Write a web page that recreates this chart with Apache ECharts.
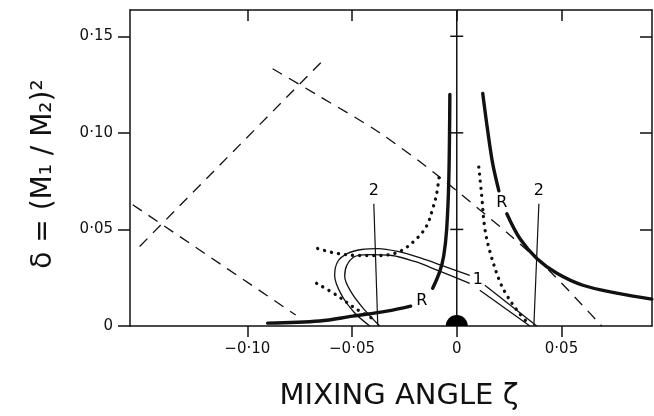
<!DOCTYPE html>
<html>
<head>
<meta charset="utf-8">
<script src="https://cdn.jsdelivr.net/npm/echarts@6/dist/echarts.min.js"></script>
<style>html,body{margin:0;padding:0;background:#fff;}#c{width:654px;height:416px;}</style>
</head>
<body>
<div id="c"></div>
<script>
// axis ranges and ticks
const xRange = [-0.156, 0.0932];
const yRange = [0, 0.1636];
const xTicks = [-0.10, -0.05, 0, 0.05];
const xTickLabels = ['\u22120\u00b710', '\u22120\u00b705', '0', '0\u00b705'];
const yTicks = [0, 0.05, 0.10, 0.15];
const yTickLabels = ['0', '0\u00b705', '0\u00b710', '0\u00b715'];
const zeroLineTicks = [0.05, 0.10, 0.15];

// dashed lines
const dashLong = [[-0.0879,0.1332],[-0.0654,0.1188],[-0.0372,0.1003],[-0.0100,0.0787],[0.0267,0.0458],[0.0454,0.0273],[0.0692,0.0]];
const dashRise = [[-0.1514,0.0412],[-0.0645,0.1368]];
const dashLow = [[-0.1547,0.0628],[-0.0769,0.0057]];

// thick R curves
const rLeftHigh = [[-0.0033,0.1199],[-0.0038,0.0761],[-0.0048,0.0504],[-0.0062,0.0365],[-0.0081,0.0283],[-0.0115,0.0195]];
const rLeftLow = [[-0.0220,0.0103],[-0.0334,0.0077],[-0.0497,0.0051],[-0.0654,0.0026],[-0.0903,0.0015]];
const rRightHigh = [[0.0124,0.1204],[0.0148,0.1008],[0.0172,0.0838],[0.0201,0.0700]];
const rRightLow = [[0.0239,0.0581],[0.0301,0.0453],[0.0382,0.0350],[0.0478,0.0273],[0.0602,0.0211],[0.0764,0.0170],[0.0931,0.0139]];

// dotted curves
const dotUpper = [[-0.0664,0.0401],[-0.0573,0.0376],[-0.0463,0.0365],[-0.0368,0.0365],[-0.0272,0.0386],[-0.0191,0.0453],[-0.0143,0.0520],[-0.0115,0.0607],[-0.0096,0.0684],[-0.0081,0.0802]];
const dotLower = [[-0.0669,0.0221],[-0.0573,0.0159],[-0.0487,0.0093],[-0.0382,0.0026]];
const dotRight = [[0.0105,0.0823],[0.0119,0.0674],[0.0134,0.0504],[0.0158,0.0386],[0.0205,0.0231],[0.0239,0.0159],[0.0287,0.0082],[0.0339,0.0015]];

// band "1" (double thin line)
const bandOuterA = [[-0.0415,0.0],[-0.0487,0.0067],[-0.0549,0.0159],[-0.0583,0.0262],[-0.0568,0.0334],[-0.0521,0.0376],[-0.0454,0.0396],[-0.0377,0.0401],[-0.0282,0.0386],[-0.0167,0.0350],[-0.0072,0.0314],[0.0062,0.0262]];
const bandOuterB = [[0.0134,0.0211],[0.0382,0.0]];
const bandInnerA = [[-0.0368,0.0],[-0.0439,0.0082],[-0.0501,0.0170],[-0.0535,0.0257],[-0.0525,0.0314],[-0.0487,0.0360],[-0.0425,0.0370],[-0.0310,0.0365],[-0.0201,0.0334],[-0.0091,0.0288],[0.0062,0.0221]];
const bandInnerB = [[0.0110,0.0185],[0.0349,0.0]];

// thin "2" lines
const line2Left = [[-0.0396,0.0633],[-0.0377,0.0]];
const line2Right = [[0.0392,0.0633],[0.0368,0.0]];

// zero line
const zeroLine = [[0,0],[0,0.1636]];
const origin = [[0,0]];

// curve labels
const curveLabels = [
  {name:'R', value:[-0.0167,0.0129]},
  {name:'R', value:[0.0215,0.0638]},
  {name:'2', value:[-0.0396,0.0700]},
  {name:'2', value:[0.0392,0.0700]},
  {name:'1', value:[0.0100,0.0237]}
];

const FONT = 'DejaVu Sans';
const INK = '#111';

function fmt(ticks, labels) {
  return function (v) {
    const i = ticks.findIndex(t => Math.abs(t - v) < 1e-9);
    return i >= 0 ? labels[i] : '';
  };
}

function lineS(data, style, smooth) {
  return {
    type: 'line', data: data, showSymbol: false, symbol: 'none', silent: true,
    smooth: smooth === undefined ? 0.35 : smooth, clip: true,
    lineStyle: Object.assign({color: INK, opacity: 1}, style), z: 3
  };
}

const dashStyle = {width: 1.3, type: [11, 8]};
const thickStyle = {width: 3.4, cap: 'round'};
const dotStyle = {width: 3.3, type: [0.1, 7], cap: 'round'};
const thinStyle = {width: 1.3};

const chart = echarts.init(document.getElementById('c'), null, {renderer: 'canvas'});
chart.setOption({
  animation: false,
  backgroundColor: '#fff',
  grid: {left: 130, top: 10, right: 2, bottom: 88, containLabel: false},
  xAxis: [
    {
      type: 'value', min: xRange[0], max: xRange[1], position: 'bottom',
      name: 'MIXING ANGLE \u03b6', nameLocation: 'middle', nameGap: 56,
      nameTextStyle: {fontFamily: FONT, fontSize: 29, color: INK, padding: [0, 0, 0, 16]},
      axisLine: {show: true, onZero: false, lineStyle: {color: INK, width: 1.5}},
      axisTick: {show: true, inside: false, length: 11, customValues: xTicks, lineStyle: {color: INK, width: 1.5}},
      axisLabel: {show: true, customValues: xTicks, formatter: fmt(xTicks, xTickLabels), margin: 16,
        fontFamily: FONT, fontSize: 15, color: INK},
      splitLine: {show: false}
    },
    {
      type: 'value', min: xRange[0], max: xRange[1], position: 'top',
      axisLine: {show: true, onZero: false, lineStyle: {color: INK, width: 1.5}},
      axisTick: {show: true, inside: true, length: 11, customValues: xTicks, lineStyle: {color: INK, width: 1.5}},
      axisLabel: {show: false},
      splitLine: {show: false}
    }
  ],
  yAxis: [
    {
      type: 'value', min: yRange[0], max: yRange[1], position: 'left',
      name: '\u03b4 = (M\u2081 / M\u2082)\u00b2', nameLocation: 'middle', nameRotate: 90, nameGap: 72,
      nameTextStyle: {fontFamily: FONT, fontSize: 28, color: INK, padding: [0, 12, 0, 0]},
      axisLine: {show: true, onZero: false, lineStyle: {color: INK, width: 1.5}},
      axisTick: {show: true, inside: false, length: 12, customValues: yTicks, lineStyle: {color: INK, width: 1.5}},
      axisLabel: {show: true, customValues: yTicks, formatter: fmt(yTicks, yTickLabels), margin: 17,
        fontFamily: FONT, fontSize: 15, color: INK},
      splitLine: {show: false}
    },
    {
      type: 'value', min: yRange[0], max: yRange[1], position: 'right',
      axisLine: {show: true, onZero: false, lineStyle: {color: INK, width: 1.5}},
      axisTick: {show: true, inside: true, length: 12, customValues: yTicks.slice(1), lineStyle: {color: INK, width: 1.5}},
      axisLabel: {show: false},
      splitLine: {show: false}
    }
  ],
  series: [
    lineS(zeroLine, {width: 1.5}, false),
    {
      type: 'scatter', data: zeroLineTicks.map(v => [0, v]), symbol: 'rect', symbolSize: [13, 1.5],
      itemStyle: {color: INK, opacity: 1}, silent: true, z: 3
    },
    lineS(dashLong, dashStyle, 0.3),
    lineS(dashRise, dashStyle, false),
    lineS(dashLow, dashStyle, false),
    lineS(rLeftHigh, thickStyle),
    lineS(rLeftLow, thickStyle),
    lineS(rRightHigh, thickStyle),
    lineS(rRightLow, thickStyle),
    lineS(dotUpper, dotStyle),
    lineS(dotLower, dotStyle),
    lineS(dotRight, dotStyle),
    lineS(bandOuterA, thinStyle),
    lineS(bandOuterB, thinStyle, false),
    lineS(bandInnerA, thinStyle),
    lineS(bandInnerB, thinStyle, false),
    lineS(line2Left, {width: 1.2}, false),
    lineS(line2Right, {width: 1.2}, false),
    {
      type: 'custom', data: origin, silent: true, z: 4,
      renderItem: function (params, api) {
        const p = api.coord([api.value(0), api.value(1)]);
        return {
          type: 'sector',
          shape: {cx: p[0], cy: p[1], r0: 0, r: 11, startAngle: Math.PI, endAngle: 2 * Math.PI, clockwise: true},
          style: {fill: '#000'}
        };
      }
    },
    {
      type: 'scatter', data: curveLabels, symbolSize: 0, silent: true, z: 5,
      itemStyle: {opacity: 1},
      label: {show: true, position: 'inside', formatter: p => p.name,
        fontFamily: FONT, fontSize: 16, color: '#000', opacity: 1}
    }
  ]
});
</script>
</body>
</html>
